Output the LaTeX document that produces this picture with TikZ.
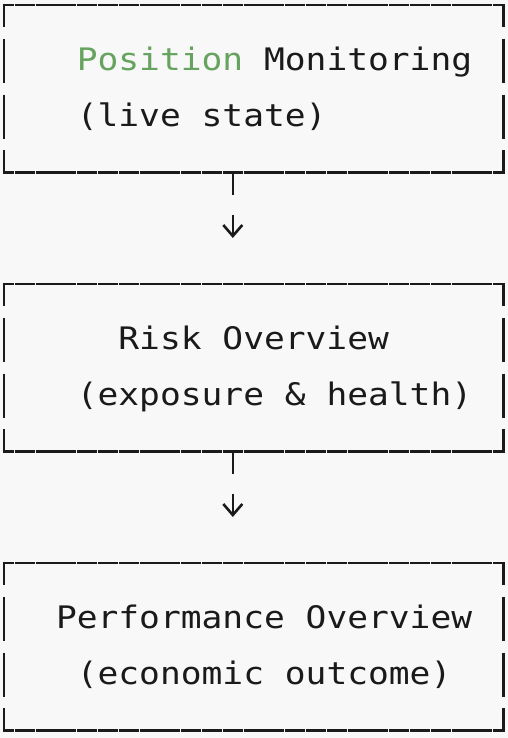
\documentclass[tikz,border=0pt]{standalone}
\usepackage{fontspec}
\setmonofont[FakeStretch=1.115]{DejaVu Sans Mono}
\usetikzlibrary{positioning,arrows.meta}
\definecolor{canvas}{HTML}{F8F8F8}
\definecolor{ink}{HTML}{1A1A1A}
\definecolor{posgreen}{HTML}{66A35E}
\newlength\cellw
\setlength\cellw{20.8pt}
\newcommand\rowstrut{\rule[-17.9pt]{0pt}{55.8pt}}
\newcommand\panel[2]{\vbox{\offinterlineskip
  \hbox{\rowstrut\makebox[23\cellw][l]{#1}}%
  \hbox{\rowstrut\makebox[23\cellw][l]{#2}}}}
\begin{document}
\begin{tikzpicture}[x=1pt,y=1pt,
    panelbox/.style={inner xsep=10.4pt,inner ysep=27.9pt,outer sep=0pt,text=ink,
      font=\ttfamily\fontsize{31}{55.8}\selectfont},
    hrule/.style={draw=ink,line width=2.6pt,shorten <=-1.3pt,shorten >=-1.3pt,
      dash pattern=on 20pt off 0.8pt,dash phase=8.8pt},
    vrule/.style={draw=ink,line width=2.6pt,dash pattern=on 44pt off 11.8pt,dash phase=22pt},
    stem/.style={draw=ink,line width=2.6pt},
    pointer/.style={draw=ink,line width=2.6pt,-{Straight Barb[length=11pt,width=19pt]}}]
  \fill[canvas] (0,0) rectangle (508,738);
  \useasboundingbox (0,0) rectangle (508,738);
  \node[panelbox] (pos) at (253.6,649.3)
    {\panel{\hspace*{3\cellw}\textcolor{posgreen}{Position} Monitoring}
           {\hspace*{3\cellw}(live state)}};
  \node[panelbox,below=111.6pt of pos] (risk)
    {\panel{\hspace*{5\cellw}Risk Overview}
           {\hspace*{3\cellw}(exposure \& health)}};
  \node[panelbox,below=111.6pt of risk] (perf)
    {\panel{\hspace*{2\cellw}Performance Overview}
           {\hspace*{3\cellw}(economic outcome)}};
  % frames
  \foreach \n in {pos,risk,perf} {
    \draw[hrule] (\n.north west) -- (\n.north east);
    \draw[hrule] (\n.south west) -- (\n.south east);
    \draw[vrule] (\n.north west) -- (\n.south west);
    \draw[vrule] (\n.north east) -- (\n.south east);
  }
  % links
  \foreach \a/\b in {pos/risk,risk/perf} {
    \coordinate (\a-drop) at ([xshift=-\cellw]\a.south);
    \draw[stem] (\a-drop) -- ++(0,-22.4pt);
    \draw[pointer] ([yshift=-42.6pt]\a-drop) -- ([yshift=46pt]\a-drop |- \b.north);
  }
\end{tikzpicture}
\end{document}
